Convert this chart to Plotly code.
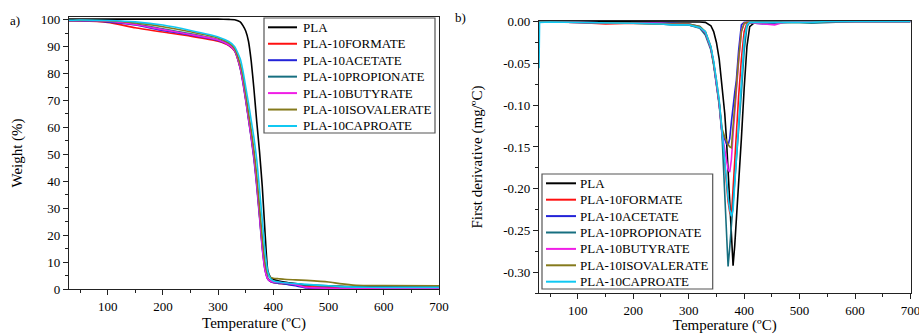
import plotly.graph_objects as go

# ---------------- data ----------------
series_names = ["PLA", "PLA-10FORMATE", "PLA-10ACETATE", "PLA-10PROPIONATE",
                "PLA-10BUTYRATE", "PLA-10ISOVALERATE", "PLA-10CAPROATE"]
series_colors = ["#000000", "#ff1010", "#2323d8", "#176f80", "#f01ee6", "#857a1c", "#10c8f2"]

# TGA (panel a)
t_tga = [30, 50, 100, 150, 200, 250, 300, 320, 330, 340, 345, 350, 355, 360, 365, 370,
         375, 380, 385, 390, 395, 400, 410, 420, 440, 460, 500, 520, 550, 600, 700]
w_pla = [100.2, 100.2, 100.2, 100.2, 100.2, 100.2, 100.2, 100.1, 100.0, 99.2, 97.8, 95.8, 92.0,
         84.5, 74.0, 62.0, 51.0, 38.0, 21.0, 6.8, 4.3, 3.6, 3.0, 2.6, 2.0, 1.5, 1.1, 1.0, 0.9, 0.8, 0.7]
w_formate = [99.5, 99.5, 99.0, 97.0, 95.4, 93.9, 92.0, 90.3, 88.3, 82.0, 77.0, 70.5, 63.5,
             56.5, 49.0, 39.0, 27.5, 16.0, 7.5, 3.8, 2.8, 2.4, 2.1, 1.9, 1.4, 0.9, 0.6, 0.5, 0.5, 0.5, 0.5]
w_acetate = [99.6, 99.6, 99.2, 98.0, 96.0, 94.3, 92.3, 90.5, 88.5, 82.0, 76.5, 70.0, 63.0,
             56.0, 48.0, 38.0, 26.7, 15.0, 7.0, 3.6, 2.8, 2.4, 2.1, 1.9, 1.2, 0.4, 0.2, 0.2, 0.2, 0.2, 0.2]
w_propionate = [99.6, 99.7, 99.4, 98.4, 96.6, 94.8, 92.6, 90.8, 88.8, 82.5, 77.5, 71.0, 64.0,
                57.0, 49.5, 40.0, 28.5, 17.0, 8.0, 4.0, 3.0, 2.6, 2.3, 2.1, 1.8, 1.5, 1.2, 0.9, 0.6, 0.5, 0.5]
w_butyrate = [99.6, 99.7, 99.4, 98.2, 96.3, 94.5, 92.5, 90.6, 88.6, 82.3, 77.0, 70.5, 63.5,
              56.5, 49.0, 39.0, 27.5, 15.5, 7.0, 3.7, 2.9, 2.6, 2.4, 2.2, 1.6, 0.6, 0.3, 0.3, 0.3, 0.3, 0.3]
w_isovalerate = [99.7, 99.8, 99.6, 98.8, 97.4, 95.5, 93.2, 91.3, 89.3, 83.5, 79.0, 72.5, 65.5,
                 59.0, 51.5, 42.0, 30.5, 19.0, 10.0, 5.5, 4.3, 4.0, 3.8, 3.6, 3.4, 3.2, 2.6, 2.0, 1.4, 1.3, 1.2]
w_caproate = [99.8, 99.9, 99.7, 99.2, 98.0, 96.0, 93.6, 91.8, 90.0, 85.5, 81.0, 75.0, 69.0,
              62.5, 56.0, 48.0, 37.0, 25.5, 14.0, 6.5, 3.8, 3.0, 2.6, 2.3, 2.0, 1.7, 1.2, 0.9, 0.7, 0.6, 0.6]

# DTG (panel b)
t_dtg = [30, 31, 50, 100, 150, 200, 250, 270, 300, 320, 330, 340, 345, 350, 355, 360, 365, 368,
         371, 374, 377, 380, 383, 386, 390, 395, 400, 405, 410, 420, 440, 455, 470, 500, 520, 550, 600, 700]
d_pla = [0, 0, 0, 0, 0, 0, 0, 0, 0, -0.0005, -0.001, -0.005, -0.012, -0.025, -0.045, -0.075, -0.11, -0.14,
         -0.175, -0.215, -0.255, -0.292, -0.268, -0.238, -0.19, -0.14, -0.08, -0.03, -0.006, -0.0005,
         0, 0, 0, 0, 0, 0, 0, 0]
d_formate = [0, -0.0005, -0.0005, -0.001, -0.003, -0.002, -0.003, -0.003, -0.004, -0.007, -0.013, -0.032,
             -0.05, -0.072, -0.098, -0.133, -0.17, -0.195, -0.215, -0.228, -0.232, -0.2, -0.165, -0.13,
             -0.09, -0.045, -0.012, -0.002, -0.001, -0.001, -0.001, -0.001, -0.001, -0.001, -0.001, -0.0005, 0, 0]
d_acetate = [0, -0.0005, -0.0005, -0.001, -0.002, -0.002, -0.002, -0.002, -0.003, -0.006, -0.013, -0.032,
             -0.05, -0.072, -0.098, -0.132, -0.14, -0.146, -0.148, -0.14, -0.12, -0.1, -0.085, -0.07,
             -0.035, -0.004, -0.001, -0.001, -0.001, -0.002, -0.003, -0.002, -0.001, 0, 0, 0, 0, 0]
d_propionate = [0, -0.0005, -0.0005, -0.001, -0.001, -0.002, -0.003, -0.004, -0.004, -0.008, -0.016, -0.034,
                -0.052, -0.074, -0.1, -0.135, -0.2, -0.245, -0.293, -0.27, -0.245, -0.22, -0.195, -0.168,
                -0.13, -0.085, -0.035, -0.006, -0.001, -0.001, -0.001, -0.001, -0.001, -0.001, -0.002, -0.001, 0, 0]
d_butyrate = [0, -0.0005, -0.0005, -0.001, -0.002, -0.002, -0.002, -0.003, -0.003, -0.007, -0.013, -0.032,
              -0.05, -0.072, -0.098, -0.133, -0.155, -0.168, -0.177, -0.18, -0.165, -0.135, -0.105, -0.08,
              -0.048, -0.012, -0.002, -0.001, -0.001, -0.002, -0.003, -0.004, -0.001, 0, 0, 0, 0, 0]
d_isovalerate = [0, -0.0005, -0.0005, -0.001, -0.001, -0.002, -0.003, -0.003, -0.003, -0.006, -0.012, -0.03,
                 -0.048, -0.07, -0.096, -0.128, -0.138, -0.143, -0.147, -0.15, -0.151, -0.125, -0.1, -0.075,
                 -0.045, -0.012, -0.002, -0.001, -0.001, -0.001, -0.001, -0.001, -0.001, -0.001, -0.001, 0, 0, 0]
d_caproate = [-0.056, -0.001, -0.0005, -0.001, -0.001, -0.002, -0.003, -0.004, -0.004, -0.007, -0.012, -0.03,
              -0.047, -0.068, -0.094, -0.13, -0.168, -0.19, -0.21, -0.225, -0.233, -0.225, -0.195, -0.16,
              -0.115, -0.065, -0.022, -0.004, -0.001, -0.001, -0.001, -0.001, -0.001, -0.001, -0.001, 0, 0, 0]

x_ticks = [100, 200, 300, 400, 500, 600, 700]
ya_ticks = [0, 10, 20, 30, 40, 50, 60, 70, 80, 90, 100]
yb_ticks = [0.0, -0.05, -0.10, -0.15, -0.20, -0.25, -0.30]
yb_ticklabels = ["0.00", "-0.05", "-0.10", "-0.15", "-0.20", "-0.25", "-0.30"]

tga_series = [w_pla, w_formate, w_acetate, w_propionate, w_butyrate, w_isovalerate, w_caproate]
dtg_series = [d_pla, d_formate, d_acetate, d_propionate, d_butyrate, d_isovalerate, d_caproate]

# ---------------- figure ----------------
FONT = "Liberation Serif"
TXT = "#000000"
W, H = 919, 334

fig = go.Figure()
for name, col, ys in zip(series_names, series_colors, tga_series):
    fig.add_trace(go.Scatter(x=t_tga, y=ys, mode="lines", name=name, line=dict(color=col, width=1.6),
                             xaxis="x", yaxis="y", showlegend=False, line_shape="spline",
                             line_smoothing=0.5))
for name, col, ys in zip(series_names, series_colors, dtg_series):
    fig.add_trace(go.Scatter(x=t_dtg, y=ys, mode="lines", name=name, line=dict(color=col, width=1.6),
                             xaxis="x2", yaxis="y2", showlegend=False))


def px_x(p):
    return p / W


def px_y(p):
    return 1 - p / H


axis_common = dict(showline=True, linecolor="#222", linewidth=1.2, mirror=True, ticks="outside",
                   ticklen=5, tickwidth=1, tickcolor="#222", showgrid=False, zeroline=False,
                   tickfont=dict(family=FONT, size=13, color=TXT), automargin=False,
                   ticklabeloverflow="allow")
minor_x = dict(dtick=50, tick0=0, ticklen=3, ticks="outside", tickcolor="#222")

shapes = []
annotations = [
    dict(text="a)", x=px_x(15), y=px_y(20), xref="paper", yref="paper", showarrow=False,
         xanchor="center", yanchor="middle", font=dict(family=FONT, size=13, color=TXT)),
    dict(text="b)", x=px_x(461), y=px_y(18), xref="paper", yref="paper", showarrow=False,
         xanchor="center", yanchor="middle", font=dict(family=FONT, size=13, color=TXT)),
]


def add_legend(box_l, box_t, box_r, box_b, line_l, line_r, text_l, row0, row_step):
    shapes.append(dict(type="rect", xref="paper", yref="paper",
                       x0=px_x(box_l), x1=px_x(box_r), y0=px_y(box_b), y1=px_y(box_t),
                       line=dict(color="#555", width=1.2), fillcolor="white", layer="above"))
    for i, (name, col) in enumerate(zip(series_names, series_colors)):
        yy = px_y(row0 + i * row_step)
        shapes.append(dict(type="line", xref="paper", yref="paper",
                           x0=px_x(line_l), x1=px_x(line_r), y0=yy, y1=yy,
                           line=dict(color=col, width=2), layer="above"))
        annotations.append(dict(text=name, x=px_x(text_l), y=yy, xref="paper", yref="paper",
                                xanchor="left", yanchor="middle", showarrow=False,
                                font=dict(family=FONT, size=13, color=TXT)))


add_legend(264, 18, 435, 133, 268, 297, 301, 27.3, 16.45)
add_legend(542, 174, 712.7, 289, 546, 576, 578, 183.3, 16.4)

fig.update_layout(
    width=W, height=H, margin=dict(l=0, r=0, t=0, b=0),
    paper_bgcolor="white", plot_bgcolor="white",
    font=dict(family=FONT, color=TXT),
    xaxis=dict(domain=[px_x(69), px_x(439)], range=[30, 700], anchor="y",
               tickvals=x_ticks, minor=minor_x,
               title=dict(text="Temperature (ºC)", font=dict(family=FONT, size=15, color=TXT), standoff=4),
               **axis_common),
    yaxis=dict(domain=[px_y(289), px_y(17)], range=[0, 101], anchor="x",
               tickvals=ya_ticks, minor=dict(dtick=5, tick0=0, ticklen=3, ticks="outside", tickcolor="#222"),
               title=dict(text="Weight (%)", font=dict(family=FONT, size=15, color=TXT), standoff=14),
               **axis_common),
    xaxis2=dict(domain=[px_x(539), px_x(910.5)], range=[30, 700], anchor="y2",
                tickvals=x_ticks, minor=minor_x,
                title=dict(text="Temperature (ºC)", font=dict(family=FONT, size=15, color=TXT), standoff=4),
                **axis_common),
    yaxis2=dict(domain=[px_y(293.3), px_y(20.7)], range=[-0.325, 0.001], anchor="x2",
                tickvals=yb_ticks, ticktext=yb_ticklabels,
                minor=dict(dtick=0.025, tick0=0, ticklen=3, ticks="outside", tickcolor="#222"),
                title=dict(text="First derivative (mg/ºC)", font=dict(family=FONT, size=15, color=TXT),
                           standoff=16),
                **axis_common),
    shapes=shapes,
    annotations=annotations,
)

fig.write_html("out.html", config={"displayModeBar": False},
               post_script="document.body.style.margin='0';document.body.style.padding='0';")
